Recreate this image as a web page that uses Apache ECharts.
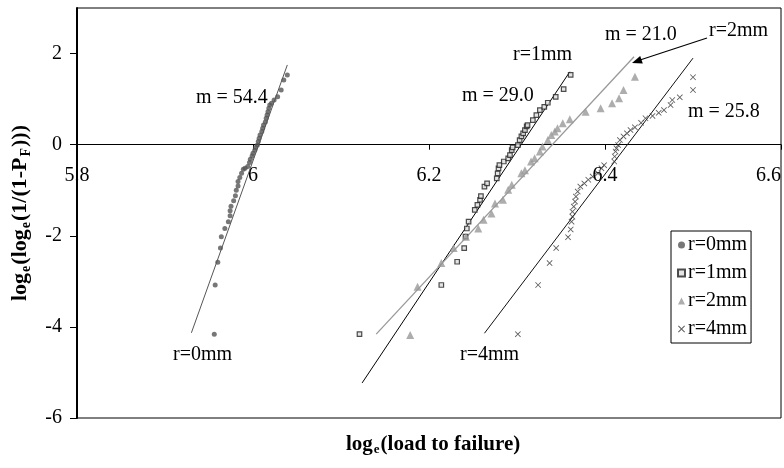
<!DOCTYPE html>
<html>
<head>
<meta charset="utf-8">
<script src="https://cdn.jsdelivr.net/npm/echarts@6/dist/echarts.min.js"></script>
<style>
  html, body { margin: 0; padding: 0; background: #fff; }
  #chart { width: 784px; height: 468px; }
</style>
</head>
<body>
<div id="chart"></div>
<script>
// points: [log load, log log 1/(1-PF)]
var r0 = [[5.956,-4.16],[5.957,-3.08],[5.960,-2.58],[5.963,-2.27],[5.964,-2.02],[5.968,-1.84],[5.972,-1.69],[5.974,-1.56],[5.974,-1.45],[5.975,-1.35],[5.978,-1.23],[5.980,-1.12],[5.981,-1.00],[5.983,-0.91],[5.983,-0.81],[5.985,-0.72],[5.987,-0.63],[5.989,-0.54],[5.991,-0.52],[5.994,-0.48],[5.996,-0.39],[5.997,-0.32],[5.999,-0.25],[6.000,-0.19],[6.002,-0.12],[6.003,-0.06],[6.005,-0.01],[6.006,0.07],[6.007,0.14],[6.008,0.21],[6.010,0.29],[6.011,0.36],[6.012,0.43],[6.014,0.50],[6.015,0.58],[6.016,0.65],[6.017,0.72],[6.018,0.80],[6.019,0.87],[6.021,0.91],[6.024,0.98],[6.028,1.05],[6.032,1.20],[6.035,1.42],[6.039,1.53]];
var r1 = [[6.121,-4.16],[6.214,-3.08],[6.232,-2.57],[6.240,-2.27],[6.2415,-2.02],[6.243,-1.84],[6.245,-1.69],[6.252,-1.43],[6.255,-1.32],[6.258,-1.21],[6.259,-1.13],[6.263,-0.92],[6.266,-0.85],[6.277,-0.74],[6.278,-0.63],[6.279,-0.52],[6.280,-0.45],[6.285,-0.37],[6.290,-0.30],[6.292,-0.23],[6.294,-0.12],[6.295,-0.06],[6.301,-0.01],[6.303,0.10],[6.305,0.18],[6.307,0.25],[6.309,0.32],[6.311,0.40],[6.312,0.43],[6.318,0.54],[6.322,0.65],[6.326,0.76],[6.331,0.83],[6.335,0.92],[6.344,1.05],[6.353,1.22],[6.361,1.53]];
var r2 = [[6.1786,-4.18],[6.187,-3.12],[6.214,-2.60],[6.228,-2.27],[6.242,-2.02],[6.256,-1.84],[6.262,-1.65],[6.271,-1.51],[6.275,-1.29],[6.284,-1.21],[6.290,-0.99],[6.294,-0.88],[6.305,-0.63],[6.309,-0.56],[6.316,-0.37],[6.320,-0.30],[6.326,-0.15],[6.329,-0.04],[6.335,0.10],[6.339,0.21],[6.343,0.29],[6.346,0.36],[6.352,0.47],[6.360,0.56],[6.378,0.72],[6.395,0.80],[6.408,0.91],[6.416,1.02],[6.421,1.20],[6.434,1.49]];
var r4 = [[6.301,-4.16],[6.324,-3.08],[6.337,-2.60],[6.3445,-2.27],[6.358,-2.03],[6.361,-1.86],[6.362,-1.69],[6.363,-1.58],[6.363,-1.47],[6.3645,-1.36],[6.366,-1.25],[6.367,-1.14],[6.369,-1.03],[6.372,-0.92],[6.3765,-0.85],[6.381,-0.77],[6.386,-0.70],[6.392,-0.63],[6.396,-0.52],[6.399,-0.45],[6.4105,-0.37],[6.411,-0.26],[6.412,-0.15],[6.413,-0.08],[6.415,-0.01],[6.417,0.10],[6.421,0.18],[6.425,0.25],[6.429,0.32],[6.434,0.38],[6.441,0.48],[6.446,0.58],[6.454,0.63],[6.461,0.70],[6.467,0.76],[6.4745,0.87],[6.4765,0.98],[6.485,1.04],[6.500,1.20],[6.500,1.48]];

// fitted lines, end points
var fit0 = [[5.930,-4.13],[6.039,1.75]];
var fit1 = [[6.124,-5.23],[6.360,1.60]];
var fit2 = [[6.140,-4.16],[6.433,1.93]];
var fit4 = [[6.263,-4.14],[6.500,1.90]];

var names = ['r=0mm', 'r=1mm', 'r=2mm', 'r=4mm'];

var serif = 'Liberation Serif';
var cross = 'path://M0,1L1,0L5,4L9,0L10,1L6,5L10,9L9,10L5,6L1,10L0,9L4,5Z';

function fitLine(d, col, w) {
    return {
        type: 'line', data: d, showSymbol: false, silent: true,
        lineStyle: { color: col, width: w }, z: 1
    };
}

function nameRich(size) {
    return {
        b: { fontFamily: serif, fontSize: size, fontWeight: 'bold', color: '#000' },
        s: { fontFamily: serif, fontSize: Math.round(size * 0.62), fontWeight: 'bold', color: '#000',
             padding: [Math.round(size * 0.48), 1, 0, 1] }
    };
}

var chart = echarts.init(document.getElementById('chart'));
chart.setOption({
    animation: false,
    textStyle: { fontFamily: serif },
    grid: { left: 77, right: -2, top: 8, bottom: 50, show: true, borderColor: '#000', borderWidth: 1 },
    title: {
        text: '{b|log}{s|e}{b|(load to failure)}',
        left: 341, top: 428,
        textStyle: { rich: nameRich(21) }
    },
    legend: {
        data: names, orient: 'vertical', left: 671, top: 231,
        backgroundColor: '#fff', borderColor: '#000', borderWidth: 1,
        padding: [4, 4, 4, 6], itemGap: 8, itemWidth: 7, itemHeight: 7,
        textStyle: { fontFamily: serif, fontSize: 20, color: '#000', padding: [0, 0, 0, -2] }
    },
    xAxis: {
        type: 'value', min: 5.8, max: 6.6, interval: 0.2,
        position: 'bottom', offset: -273.3,
        axisLine: { onZero: false, lineStyle: { color: '#000', width: 1 } },
        axisTick: { show: true, length: 5, lineStyle: { color: '#000' } },
        axisLabel: { fontFamily: serif, fontSize: 20, color: '#000', margin: 21, alignMaxLabel: 'right' },
        splitLine: { show: false }
    },
    yAxis: {
        type: 'value', min: -6, max: 3, interval: 2,
        axisLine: { show: true, lineStyle: { color: '#000', width: 2 } },
        axisTick: { show: true, length: 7, lineStyle: { color: '#000' } },
        axisLabel: { fontFamily: serif, fontSize: 20, color: '#000', margin: 15, showMaxLabel: false },
        splitLine: { show: false },
        name: '{b|log}{s|e}{b|(log}{s|e}{b|(1/(1-P}{s|F}{b|)))}',
        nameLocation: 'middle', nameGap: 44, nameRotate: 90,
        nameTextStyle: { rich: nameRich(22) }
    },
    series: [
        { name: names[0], type: 'scatter', data: r0, symbol: 'circle', symbolSize: 5,
          itemStyle: { color: '#555' }, z: 3 },
        { name: names[1], type: 'scatter', data: r1, symbol: 'rect', symbolSize: 4.5,
          itemStyle: { color: '#ddd', borderColor: '#222', borderWidth: 1.2 }, z: 3 },
        { name: names[2], type: 'scatter', data: r2, symbol: 'triangle', symbolSize: 8,
          itemStyle: { color: '#999' }, z: 3 },
        { name: names[3], type: 'scatter', data: r4, symbol: cross, symbolSize: 6,
          itemStyle: { color: '#333' }, z: 3 },
        fitLine(fit0, '#555', 1),
        fitLine(fit1, '#000', 1),
        fitLine(fit2, '#999', 1.3),
        fitLine(fit4, '#111', 1)
    ],
    graphic: [
        { type: 'text', left: 196, top: 88, style: { text: 'm = 54.4', font: '20px ' + serif, fill: '#000' } },
        { type: 'text', left: 173, top: 345, style: { text: 'r=0mm', font: '20px ' + serif, fill: '#000' } },
        { type: 'text', left: 513, top: 45, style: { text: 'r=1mm', font: '20px ' + serif, fill: '#000' } },
        { type: 'text', left: 462, top: 86, style: { text: 'm = 29.0', font: '20px ' + serif, fill: '#000' } },
        { type: 'text', left: 605, top: 25, style: { text: 'm = 21.0', font: '20px ' + serif, fill: '#000' } },
        { type: 'text', left: 709, top: 21, style: { text: 'r=2mm', font: '20px ' + serif, fill: '#000' } },
        { type: 'text', left: 688, top: 102, style: { text: 'm = 25.8', font: '20px ' + serif, fill: '#000' } },
        { type: 'text', left: 460, top: 345, style: { text: 'r=4mm', font: '20px ' + serif, fill: '#000' } },
        { type: 'line', shape: { x1: 707, y1: 38, x2: 640, y2: 60 }, style: { stroke: '#000', lineWidth: 1.2 } },
        { type: 'polygon', shape: { points: [[632, 63], [642.8, 63.6], [640.2, 56.0]] }, style: { fill: '#000' } }
    ]
});
</script>
</body>
</html>
